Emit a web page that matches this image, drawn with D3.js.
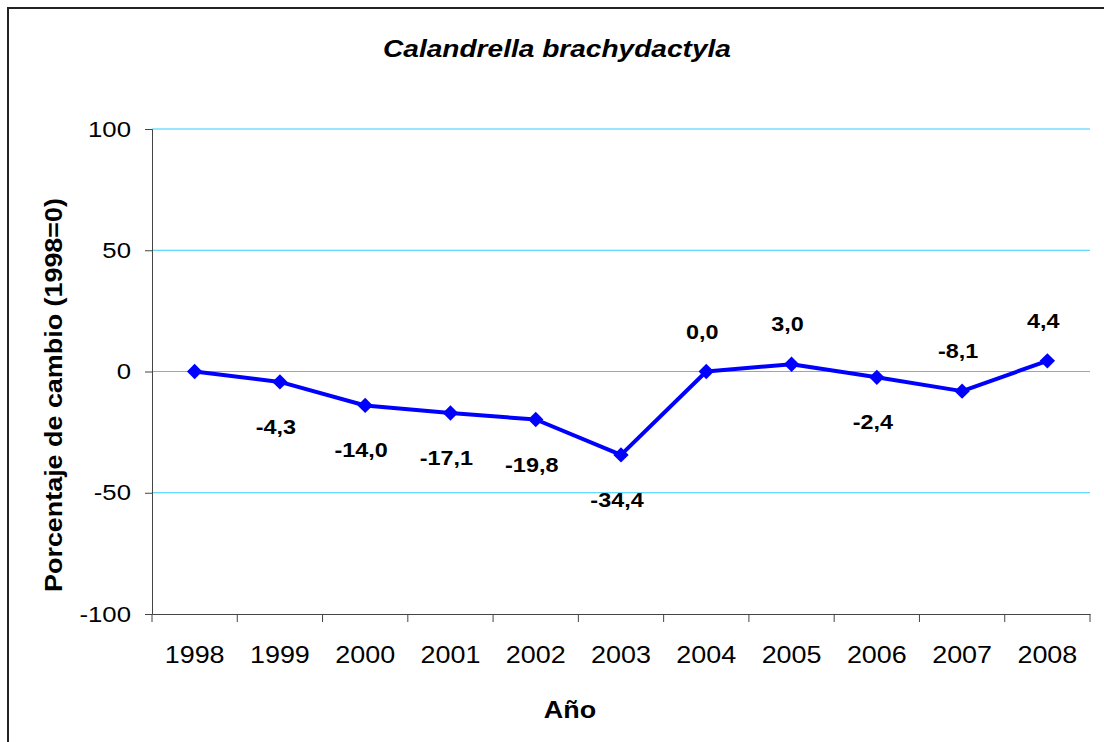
<!DOCTYPE html>
<html>
<head>
<meta charset="utf-8">
<script src="https://cdn.jsdelivr.net/npm/d3@7"></script>
<style>
  body { margin: 0; background: #fff; }
  text { font-family: "Liberation Sans", Arial, sans-serif; }
</style>
</head>
<body>
<div id="VizBox"></div>
<script>
// data
var years = ["1998", "1999", "2000", "2001", "2002", "2003", "2004", "2005", "2006", "2007", "2008"];
var values = [0, -4.3, -14.0, -17.1, -19.8, -34.4, 0.0, 3.0, -2.4, -8.1, 4.4];
var labelAbove = [false, false, false, false, false, false, true, true, false, true, true];
var showLabel = [false, true, true, true, true, true, true, true, true, true, true];
var yTicks = [-100, -50, 0, 50, 100];

var W = 1104, H = 742;
var margin = {top: 129, right: 14, bottom: 128, left: 152},
    width = W - margin.left - margin.right,
    height = H - margin.top - margin.bottom;

// the original text is a little wider than Arial
var K = 1.17;
function stretch(sel) {
  sel.each(function() {
    var t = d3.select(this);
    var x0 = +t.attr("x") || 0;
    t.attr("x", x0 / K).attr("transform", "scale(" + K + ",1)");
  });
}

var root = d3.select("#VizBox")
  .append("svg")
    .attr("width", W)
    .attr("height", H);

// outer frame
root.append("rect")
  .attr("x", 8).attr("y", 8)
  .attr("width", W + 20).attr("height", H + 20)
  .attr("fill", "none")
  .attr("stroke", "#222")
  .attr("stroke-width", 2);

root.append("g").attr("transform", "translate(557,57)")
  .append("text")
  .attr("text-anchor", "middle")
  .attr("transform", "scale(" + K + ",1)")
  .style("font-size", "24px")
  .style("font-weight", "bold")
  .style("font-style", "italic")
  .text("Calandrella brachydactyla");

var svg = root.append("g")
  .attr("transform", "translate(" + margin.left + "," + margin.top + ")");

var x = d3.scaleBand()
  .domain(years)
  .range([0, width]);

var y = d3.scaleLinear()
  .domain([-100, 100])
  .range([height, 0]);

// gridlines
svg.selectAll(".grid")
  .data(yTicks.filter(function(d) { return d > -100; }))
  .enter().append("line")
    .attr("x1", 0).attr("x2", width)
    .attr("y1", function(d) { return y(d); })
    .attr("y2", function(d) { return y(d); })
    .attr("stroke", "#33ccff")
    .attr("stroke-width", 1);

// y axis
var yAxis = svg.append("g")
  .call(d3.axisLeft(y).tickValues(yTicks).tickSize(7).tickPadding(14)
    .tickFormat(function(d) { return String(d); }));
yAxis.selectAll("text").style("font-size", "22px").attr("fill", "#000").call(stretch);

// x axis
var xAxis = svg.append("g")
  .attr("transform", "translate(0," + height + ")")
  .call(d3.axisBottom(x).tickSize(0).tickPadding(33));
xAxis.selectAll("text").style("font-size", "23px").attr("fill", "#000").call(stretch);
// ticks between categories
xAxis.selectAll(".sep")
  .data(d3.range(years.length + 1))
  .enter().append("line")
    .attr("x1", function(i) { return i * x.step(); })
    .attr("x2", function(i) { return i * x.step(); })
    .attr("y1", 0).attr("y2", 8)
    .attr("stroke", "#444");

svg.selectAll(".domain").attr("stroke", "#444");
svg.selectAll(".tick line").attr("stroke", "#444");

// line
var line = d3.line()
  .x(function(d, i) { return x(years[i]) + x.bandwidth() / 2; })
  .y(function(d) { return y(d); });

svg.append("path")
  .datum(values)
  .attr("d", line)
  .attr("fill", "none")
  .attr("stroke", "#0000ff")
  .attr("stroke-width", 4)
  .attr("stroke-linejoin", "round");

// diamonds
svg.selectAll(".pt")
  .data(values)
  .enter().append("path")
    .attr("d", d3.symbol().type(d3.symbolDiamond2).size(150))
    .attr("transform", function(d, i) {
      return "translate(" + (x(years[i]) + x.bandwidth() / 2) + "," + y(d) + ")";
    })
    .attr("fill", "#0000ff");

// data labels
var labels = values.map(function(v, i) { return {i: i, v: v}; })
  .filter(function(d) { return showLabel[d.i]; });

svg.selectAll(".lbl")
  .data(labels)
  .enter().append("g")
    .attr("transform", function(d) {
      var px = x(years[d.i]) + x.bandwidth() / 2 - 4;
      var py = y(d.v) + (labelAbove[d.i] ? -33 : 52);
      return "translate(" + px + "," + py + ")";
    })
  .append("text")
    .attr("text-anchor", "middle")
    .attr("transform", "scale(" + K + ",1)")
    .style("font-size", "20px")
    .style("font-weight", "bold")
    .text(function(d) { return d.v.toFixed(1).replace(".", ","); });

// axis titles
root.append("g").attr("transform", "translate(570,718)")
  .append("text")
  .attr("text-anchor", "middle")
  .attr("transform", "scale(" + K + ",1)")
  .style("font-size", "23px")
  .style("font-weight", "bold")
  .text("Año");

root.append("g").attr("transform", "translate(62,395) rotate(-90)")
  .append("text")
  .attr("text-anchor", "middle")
  .attr("transform", "scale(" + K + ",1)")
  .style("font-size", "23px")
  .style("font-weight", "bold")
  .text("Porcentaje de cambio (1998=0)");
</script>
</body>
</html>
